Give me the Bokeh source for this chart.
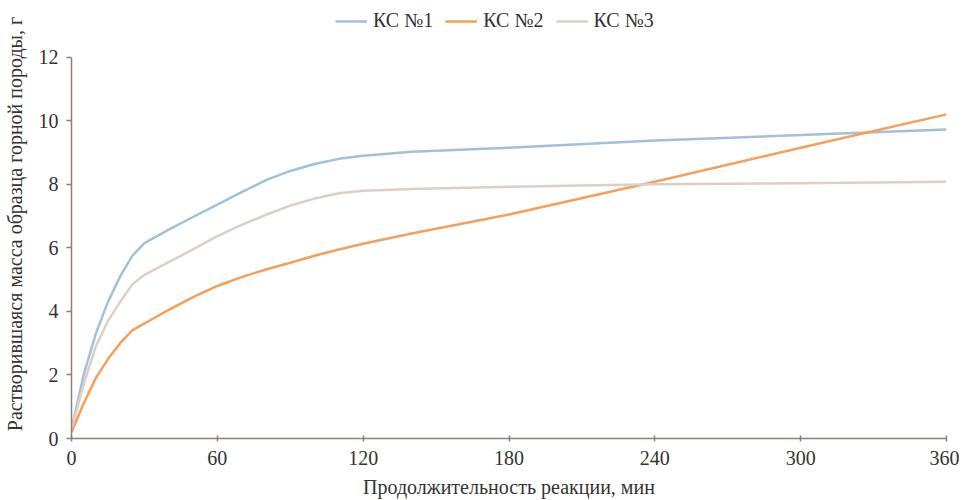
from bokeh.plotting import figure
from bokeh.models import Legend, LegendItem, FixedTicker, Range1d
from bokeh.embed import file_html
from bokeh.resources import INLINE

time_min = [0, 5, 10, 15, 20, 25, 30, 40, 50, 60, 70, 80, 90, 100, 110, 120, 140, 180, 240, 300, 360]
ks1 = [0.3, 2.0, 3.3, 4.3, 5.1, 5.75, 6.15, 6.57, 6.97, 7.36, 7.75, 8.13, 8.42, 8.64, 8.8, 8.9, 9.02, 9.15, 9.38, 9.55, 9.72]
ks2 = [0.2, 1.1, 1.9, 2.5, 3.0, 3.4, 3.62, 4.05, 4.45, 4.8, 5.08, 5.32, 5.53, 5.75, 5.95, 6.13, 6.45, 7.05, 8.08, 9.15, 10.2]
ks3 = [0.3, 1.7, 2.9, 3.7, 4.3, 4.85, 5.15, 5.55, 5.95, 6.37, 6.72, 7.04, 7.33, 7.55, 7.72, 7.8, 7.85, 7.92, 8.0, 8.03, 8.08]
series_names = ["КС №1", "КС №2", "КС №3"]
x_ticks = [0, 60, 120, 180, 240, 300, 360]
y_ticks = [0, 2, 4, 6, 8, 10, 12]

FONT = "'Liberation Serif', 'Times New Roman', serif"
AXIS_COLOR = "#8a8078"

p = figure(width=959, height=500, output_backend="svg", toolbar_location=None,
           x_range=Range1d(0, 360), y_range=Range1d(0, 13.5),
           min_border_left=70, min_border_right=13, min_border_top=9, min_border_bottom=60)
p.outline_line_color = None
p.xgrid.visible = False
p.ygrid.visible = False

colors = ["#a3c0da", "#f4a05a", "#dccec8"]
renderers = []
for ys, c in zip([ks1, ks2, ks3], colors):
    r = p.line(time_min, ys, line_color=c, line_width=2.5, line_join="round")
    renderers.append(r)

p.xaxis.ticker = FixedTicker(ticks=x_ticks)
p.yaxis.ticker = FixedTicker(ticks=y_ticks)
p.yaxis.bounds = (0, 12)
for ax in (p.xaxis[0], p.yaxis[0]):
    ax.axis_line_color = AXIS_COLOR
    ax.axis_line_width = 1.5
    ax.major_tick_line_color = AXIS_COLOR
    ax.major_tick_line_width = 1.5
    ax.minor_tick_line_color = None
    ax.major_label_text_font = FONT
    ax.major_label_text_font_size = "20px"
    ax.major_label_text_color = "#333333"
    ax.axis_label_text_font = FONT
    ax.axis_label_text_font_size = "20px"
    ax.axis_label_text_font_style = "normal"
    ax.axis_label_text_color = "#333333"
p.xaxis.major_tick_in = 3
p.xaxis.major_tick_out = 3
p.yaxis.major_tick_in = 0
p.yaxis.major_tick_out = 5
p.xaxis.major_label_standoff = 9
p.yaxis.major_label_standoff = 8
p.xaxis.axis_label = "Продолжительность реакции, мин"
p.yaxis.axis_label = "Растворившаяся масса образца горной породы, г"
p.xaxis.axis_label_standoff = 8
p.yaxis.axis_label_standoff = 10

legend = Legend(items=[LegendItem(label=n, renderers=[r]) for n, r in zip(series_names, renderers)],
                orientation="horizontal", location=(264, 406))
legend.label_text_font = FONT
legend.label_text_font_size = "20px"
legend.label_text_color = "#333333"
legend.glyph_width = 32
legend.spacing = 12
legend.label_standoff = 6
legend.border_line_color = None
legend.background_fill_alpha = 0
legend.padding = 2
legend.margin = 0
p.add_layout(legend, "center")

open("out.html", "w").write(file_html(p, INLINE))
